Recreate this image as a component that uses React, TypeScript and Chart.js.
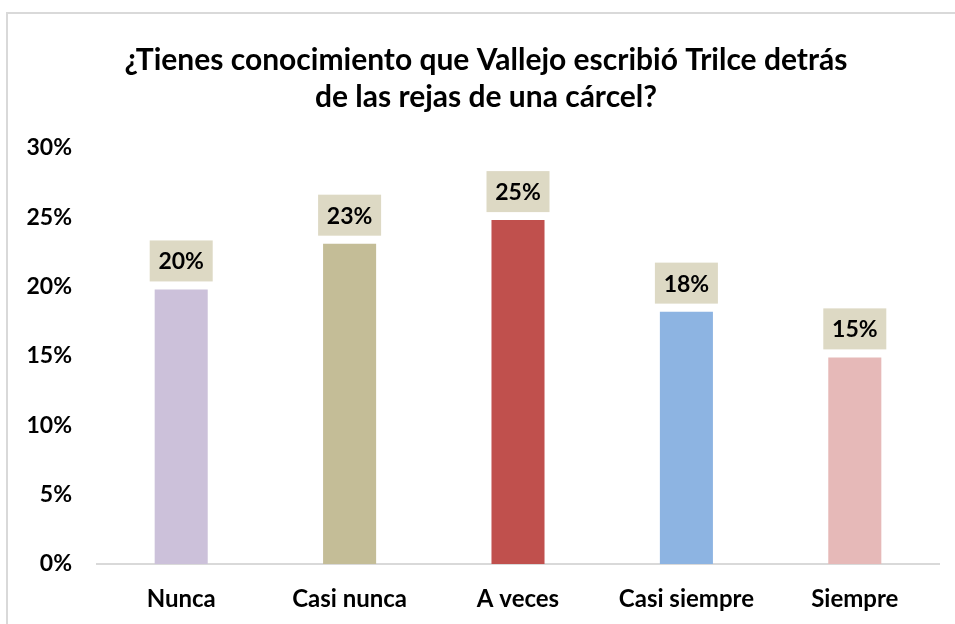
import React, { useEffect, useRef } from "react";
import { Chart, registerables } from "chart.js";

Chart.register(...registerables);

const titleLines = [
  "¿Tienes conocimiento que Vallejo escribió Trilce detrás",
  "de las rejas de una cárcel?",
];
const categories = ["Nunca", "Casi nunca", "A veces", "Casi siempre", "Siempre"];
const values = [19.8, 23.1, 24.8, 18.2, 14.9];
const barColors = ["#CCC1DA", "#C4BD97", "#C0504D", "#8DB4E2", "#E6B9B8"];
const yMin = 0;
const yMax = 30;
const yStep = 5;

const FONT = "Lato";

const boxLabels = {
  id: "boxLabels",
  afterDatasetsDraw(chart: any) {
    const ctx = chart.ctx;
    const meta = chart.getDatasetMeta(0);
    ctx.save();
    ctx.font = `bold 23px ${FONT}`;
    ctx.textAlign = "center";
    ctx.textBaseline = "middle";
    meta.data.forEach((bar: any, i: number) => {
      const w = 63;
      const h = 41;
      const bottom = bar.y - 8;
      ctx.fillStyle = "#DDD9C4";
      ctx.fillRect(bar.x - w / 2, bottom - h, w, h);
      ctx.fillStyle = "#000000";
      ctx.fillText(Math.round(values[i]) + "%", bar.x, bottom - h / 2 + 1);
    });
    ctx.restore();
  },
};

const titleDraw = {
  id: "titleDraw",
  afterDraw(chart: any) {
    const ctx = chart.ctx;
    ctx.save();
    ctx.font = `bold 30px ${FONT}`;
    ctx.fillStyle = "#000000";
    ctx.textAlign = "center";
    ctx.textBaseline = "middle";
    const cx = chart.width / 2 + 8.5;
    titleLines.forEach((line, i) => {
      ctx.fillText(line, cx, 60 + i * 37);
    });
    ctx.restore();
  },
};

export default function App() {
  const ref = useRef<HTMLCanvasElement | null>(null);

  useEffect(() => {
    if (!ref.current) return;
    const chart = new Chart(ref.current, {
      type: "bar",
      data: {
        labels: categories,
        datasets: [
          {
            data: values,
            backgroundColor: barColors,
            borderWidth: 0,
            barPercentage: 0.315,
            categoryPercentage: 1,
          },
        ],
      },
      options: {
        responsive: false,
        animation: false,
        layout: { padding: { left: 0, right: 16, top: 148, bottom: 0 } },
        plugins: {
          legend: { display: false },
          tooltip: { enabled: false },
          title: { display: false },
        },
        scales: {
          x: {
            grid: { display: false, drawTicks: false },
            border: { display: true, color: "#D9D9D9", width: 2 },
            ticks: {
              color: "#000000",
              font: { family: FONT, size: 24, weight: "bold" },
              padding: 21,
              maxRotation: 0,
            },
            afterFit(scale: any) {
              scale.height = 60;
            },
          },
          y: {
            min: yMin,
            max: yMax,
            grid: { display: false, drawTicks: false },
            border: { display: false },
            ticks: {
              stepSize: yStep,
              color: "#000000",
              font: { family: FONT, size: 23, weight: "bold" },
              padding: 25,
              callback: (v: any) => v + "%",
            },
            afterFit(scale: any) {
              scale.width = 97;
            },
          },
        },
      },
      plugins: [boxLabels, titleDraw],
    });
    return () => chart.destroy();
  }, []);

  return (
    <div
      style={{
        position: "fixed",
        left: 0,
        top: 0,
        width: 955,
        height: 624,
        background: "#ffffff",
        overflow: "hidden",
      }}
    >
      <div
        style={{
          position: "absolute",
          left: 6,
          top: 12,
          width: 1000,
          height: 700,
          borderLeft: "2px solid #D9D9D9",
          borderTop: "2px solid #D9D9D9",
        }}
      />
      <canvas
        ref={ref}
        width={955}
        height={624}
        style={{ position: "absolute", left: 0, top: 0 }}
      />
    </div>
  );
}
